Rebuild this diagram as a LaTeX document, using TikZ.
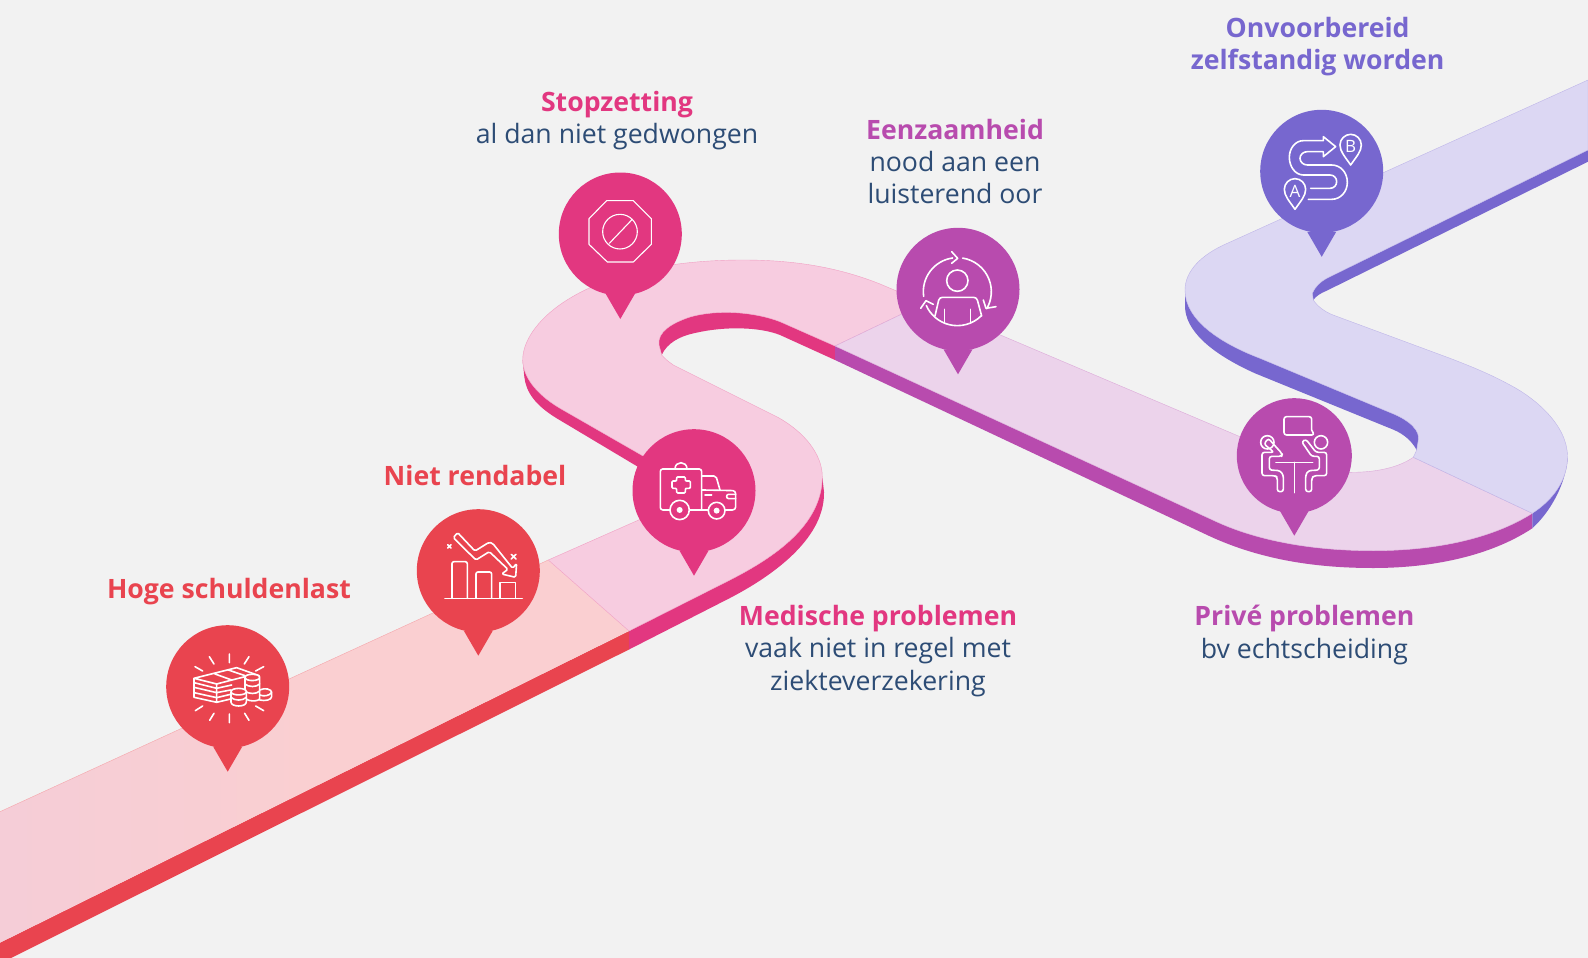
\documentclass[tikz,border=0pt]{standalone}
\usepackage{fontspec}
\setmainfont{Open Sans}
\definecolor{bgc}{HTML}{F2F2F2}
\definecolor{cred}{HTML}{E9444F}
\definecolor{cpink}{HTML}{E23780}
\definecolor{cpurp}{HTML}{B84BAE}
\definecolor{clav}{HTML}{7767CF}
\definecolor{tred}{HTML}{FACFD1}
\definecolor{tredb}{HTML}{F5CDD7}
\definecolor{tpink}{HTML}{F7CCE0}
\definecolor{tpurp}{HTML}{ECD3EB}
\definecolor{tlav}{HTML}{DCD7F3}
\definecolor{ink}{HTML}{2D4C75}
\tikzset{
  iconline/.style={draw=white,line width=1.6pt,line cap=round,line join=round},
  thinicon/.style={draw=white,line width=1.1pt,line cap=round,line join=round},
  titletext/.style={font=\fontsize{26.65}{32.4}\selectfont,align=center,inner sep=0pt},
  lettertext/.style={text=white,inner sep=0pt,font=\fontsize{17}{17}\selectfont},
}
\newcommand{\roadpin}[5]{%
  \fill[#3] (#1,#2) circle[radius=#4];
  \fill[#3] ({#1-14.5},{#2+#5-25}) -- (#1,{#2+#5}) -- ({#1+14.5},{#2+#5-25}) -- cycle;
}
\newcommand{\bt}[2]{\textcolor{#1}{\textbf{#2}}}
\newcommand{\lt}[1]{\textcolor{ink}{#1}}
\begin{document}
\begin{tikzpicture}[x=1pt,y=-1pt]
\useasboundingbox[fill=bgc] (0,0) rectangle (1588,958);
% ---- side faces
\fill[cred] (0,942.7) -- (629,631) -- (629,649.5) -- (0,963.5) -- cycle;
\fill[cpink] (629,631) -- (730,580) .. controls (775,557) and (822,525) .. (822.3,476.7)
   -- (824,492) .. controls (825,535) and (780,572) .. (730,598) -- (629,649.5) -- cycle;
\fill[cpink] (522.7,360) .. controls (523,376) and (535,393.5) .. (560,408.3) -- (650,460) -- (650,474)
   -- (556.7,418.3) .. controls (535,405) and (526,392) .. (524.3,376.7) -- cycle;
\fill[cpink] (835,346) -- (780,321.7) .. controls (755,312) and (718,309) .. (690,317)
   .. controls (672,323) and (657,332) .. (659,345) -- (661.7,355)
   .. controls (667,343) and (680,336) .. (695,333) .. controls (725,326) and (760,327) .. (780,335)
   -- (835,360) -- cycle;
\fill[cpurp] (835,346) -- (1214,520.6) .. controls (1255,540) and (1310,550.7) .. (1373,550.7)
   .. controls (1440,550.7) and (1495,537) .. (1532.3,513.3) -- (1532.3,528.3)
   .. controls (1495,553) and (1440,568) .. (1373,568) .. controls (1310,568) and (1255,558) .. (1205,534)
   -- (835,360) -- cycle;
\fill[clav] (1532.3,513.3) .. controls (1553,500) and (1567.5,480) .. (1567.5,456.7)
   -- (1565,473.3) .. controls (1561,490) and (1550,512) .. (1532.3,528.3) -- cycle;
\fill[clav] (1185,290) .. controls (1185,320) and (1220,343) .. (1260,358.3) -- (1390,412.5)
   .. controls (1412,421) and (1420,432) .. (1418.3,440) -- (1416.7,450)
   .. controls (1410,438) and (1400,432) .. (1390,428.3) -- (1255,373.3)
   .. controls (1210,353) and (1185,330) .. (1185,306) -- cycle;
\fill[clav] (1588,150) -- (1326.7,278.3) .. controls (1320,282) and (1315,287) .. (1312.3,293.3)
   -- (1313.3,300) .. controls (1316,296) and (1321,293) .. (1326.7,290.7) -- (1588,161.7) -- cycle;
% ---- top faces
\shade[left color=tredb,right color=tred,middle color=tred] (0,811.7) -- (548.3,560) -- (629,631) -- (0,942.7) -- cycle;
\draw[cred!30!tred,line width=0.4pt] (0,811.7) -- (548.3,560);
\fill[tpink,draw=cpink!30!tpink,line width=0.4pt] (548.3,560) -- (650,515) .. controls (690,497) and (690,485) .. (660,467)
   -- (650,460) -- (560,408.3) .. controls (535,393.5) and (523,376) .. (522.7,360)
   .. controls (522.7,320) and (590,260) .. (743,260) .. controls (790,260) and (835,266) .. (880,284)
   -- (925,303) -- (835,346) -- (780,321.7) .. controls (755,312) and (718,309) .. (690,317)
   .. controls (672,323) and (657,332) .. (659,345) -- (661.7,355) .. controls (665,359) and (669,362) .. (673.3,365)
   -- (776.7,416.7) .. controls (805,432) and (822.3,455) .. (822.3,476.7)
   .. controls (822,525) and (775,557) .. (730,580) -- (629,631) -- cycle;
\fill[tpurp,draw=cpurp!30!tpurp,line width=0.4pt] (835,346) -- (925,303) -- (1240,436.7) -- (1310,466)
   .. controls (1325,472) and (1340,473) .. (1351.7,472.3) .. controls (1375,472.3) and (1398,468) .. (1413.3,457.3)
   -- (1532.3,513.3) .. controls (1495,537) and (1440,550.7) .. (1373,550.7)
   .. controls (1310,550.7) and (1255,540) .. (1214,520.6) -- cycle;
\fill[tlav,draw=clav!30!tlav,line width=0.4pt] (1413.3,457.3) -- (1532.3,513.3) .. controls (1553,500) and (1567.5,480) .. (1567.5,456.7)
   .. controls (1567.5,425) and (1535,398) .. (1510,385) .. controls (1490,374) and (1470,366) .. (1450,358.3)
   -- (1333,315) .. controls (1325,312) and (1317,306) .. (1313.3,300) -- (1312.3,293.3)
   .. controls (1315,287) and (1320,282) .. (1326.7,278.3) -- (1588,150) -- (1588,80) -- (1228,243)
   .. controls (1200,255) and (1185,272) .. (1185,290) .. controls (1185,320) and (1220,343) .. (1260,358.3)
   -- (1390,412.5) .. controls (1412,421) and (1420,432) .. (1418.3,440) -- (1416.7,450) -- cycle;
% ---- pins
\roadpin{227.7}{686.7}{cred}{61.5}{85}
\roadpin{478.3}{570.7}{cred}{61.5}{85}
\roadpin{620.3}{234}{cpink}{61.5}{85}
\roadpin{694}{490.7}{cpink}{61.5}{85}
\roadpin{958}{289.3}{cpurp}{61.5}{85}
\roadpin{1321.7}{171.3}{clav}{61.5}{85.5}
\roadpin{1294.3}{455.7}{cpurp}{57.5}{80}
% ---- icon 1: money
\begin{scope}[shift={(140,500)},x=0.3333pt,y=-0.3333pt]
\draw[iconline] (268,462)--(268,488) (208,470)--(222,492) (327,470)--(313,492) (165,500)--(188,513) (371,500)--(347,513)
  (166,632)--(188,618) (371,632)--(347,618) (209,661)--(222,640) (327,661)--(314,640) (268,668)--(268,642);
\draw[iconline] (162,535)--(290,503)--(357,527) (162,535)--(230,552)--(315,530) (162,535)--(162,592)--(230,607)--(272,597)
  (230,552)--(230,607) (162,548)--(230,565)--(275,555) (162,562)--(230,578)--(272,570) (162,578)--(230,593)--(272,583)
  (225,522)--(275,540) (265,510)--(315,527);
\draw[iconline,fill=cred] (359,570) .. controls (375,562) and (395,568) .. (395,577) -- (395,590) .. controls (395,600) and (375,604) .. (359,600);
\draw[iconline,fill=cred] (315,532) -- (315,590) .. controls (315,606) and (359,606) .. (359,595) -- (359,532)
   .. controls (359,520) and (315,520) .. (315,532) .. controls (315,545) and (359,545) .. (359,532);
\draw[iconline] (315,552) .. controls (325,562) and (350,562) .. (359,552) (315,573) .. controls (325,583) and (350,583) .. (359,573);
\draw[iconline] (359,585) .. controls (372,590) and (388,588) .. (395,577);
\draw[iconline,fill=cred] (273,575) -- (273,606) .. controls (273,622) and (319,622) .. (319,606) -- (319,575)
  .. controls (319,562) and (273,562) .. (273,575) .. controls (273,588) and (319,588) .. (319,575);
\draw[iconline] (273,592) .. controls (283,603) and (309,603) .. (319,592);
% ---- icon 2: chart
\draw[iconline] (915,295)--(1147,295);
\draw[iconline,rounded corners=2pt] (936,295)--(936,185)--(982,185)--(982,295);
\draw[iconline,rounded corners=2pt] (1008,295)--(1008,216)--(1055,216)--(1055,295);
\draw[iconline] (1080,295)--(1080,248)--(1127,248)--(1127,295);
\draw[iconline,rounded corners=1.5pt] (940,113)--(953,98)--(1005,153)--(1047,127)--(1058,130)--(1118,205)--(1130,190)--(1127,232)--(1085,222)--(1104,208)--(1048,155)--(1008,180)--cycle;
\draw[iconline] (923,134)--(933,144) (933,134)--(923,144) (1114,163)--(1128,177) (1128,163)--(1114,177);
\end{scope}
% ---- icon 3: stop ; icon 4: ambulance
\begin{scope}[shift={(510,160)},x=0.3333pt,y=-0.3333pt]
\draw[thinicon] (290,122)--(370,122)--(424,176)--(424,253)--(370,306)--(292,306)--(237,253)--(237,176)--cycle;
\draw[thinicon] (330,215) circle[radius=52] (298,250)--(365,180);
\draw[iconline,rounded corners=2.5pt] (480,1050)--(451,1050)--(451,927)--(575,927)--(575,1050);
\draw[iconline] (495,927) .. controls (495,902) and (531,902) .. (531,927);
\draw[iconline,rounded corners=1pt] (500,951)--(526,951)--(526,963)--(541,963)--(541,985)--(526,985)--(526,999)--(500,999)--(500,985)--(486,985)--(486,963)--(500,963)--cycle;
\draw[iconline] (509,1050) circle[radius=29] (620,1052) circle[radius=25];
\fill[white] (509,1050) circle[radius=9] (620,1052) circle[radius=9];
\draw[iconline] (539,1050)--(595,1050);
\draw[iconline,rounded corners=2pt] (575,948)--(618,948)--(630,990);
\draw[iconline,rounded corners=3pt] (575,990)--(677,992)--(677,1050)--(645,1050);
\draw[iconline] (585,1005)--(605,1005);
\draw[iconline,rounded corners=2pt] (677,1003)--(650,1003)--(650,1016)--(677,1016);
\end{scope}
% ---- icon 5: person
\begin{scope}[shift={(880,210)},x=0.3333pt,y=-0.3333pt]
\draw[iconline] (232,212) circle[radius=32];
\draw[iconline,rounded corners=3pt] (165,318)--(178,262)--(290,262)--(305,318);
\draw[iconline] (193,298)--(193,340) (272,298)--(272,338);
\draw[iconline] (232,245)+(172:102) arc[start angle=172,end angle=262,radius=102];
\draw[iconline] (232,245)+(-81:102) arc[start angle=-81,end angle=30,radius=102];
\draw[iconline] (232,245)+(45:102) arc[start angle=45,end angle=156,radius=102];
\draw[iconline] (215,125)--(233,145)--(215,160) (348,290)--(318,295)--(310,270) (122,295)--(138,272)--(160,283);
\end{scope}
% ---- icon 6: route
\begin{scope}[shift={(1220,100)},x=0.3333pt,y=-0.3333pt]
\draw[iconline] (265,298)--(335,298) .. controls (362,298) and (382,275) .. (382,247) .. controls (382,218) and (362,195) .. (335,195)
  --(262,195) .. controls (250,195) and (240,186) .. (240,175) .. controls (240,164) and (250,155) .. (262,155)
  --(310,155)--(310,170)--(347,140)--(310,110)--(310,122)--(250,122) .. controls (226,122) and (208,145) .. (208,172)
  .. controls (208,200) and (226,225) .. (250,225)--(330,225) .. controls (342,225) and (350,234) .. (350,245)
  .. controls (350,256) and (342,265) .. (330,265)--(272,265);
\draw[iconline] (225,328) .. controls (208,303) and (193,288) .. (193,268) .. controls (193,250) and (208,236) .. (225,236)
  .. controls (242,236) and (257,250) .. (257,268) .. controls (257,288) and (242,303) .. (225,328) -- cycle;
\draw[iconline,shift={(167,-133)}] (225,328) .. controls (208,303) and (193,288) .. (193,268) .. controls (193,250) and (208,236) .. (225,236)
  .. controls (242,236) and (257,250) .. (257,268) .. controls (257,288) and (242,303) .. (225,328) -- cycle;
\node[lettertext] (letterA) at (225,273) {A};
\node[lettertext] (letterB) at (392,139) {B};
\end{scope}
% ---- icon 7: meeting
\begin{scope}[shift={(1200,380)},x=0.3333pt,y=-0.3333pt]
\draw[iconline,rounded corners=2.5pt] (335,150)--(335,110)--(252,110)--(252,165)--(343,165)--(335,150);
\draw[iconline] (228,247)--(338,247) (283,247)--(283,338);
\draw[iconline] (202,187) circle[radius=20] (363,187) circle[radius=20];
\draw[iconline,rounded corners=2.5pt] (205,175)--(247,222)--(245,229)--(208,229)--(208,270)--(240,272)--(250,285)--(250,335)--(232,335)--(232,292)--(225,287)--(186,287)--(186,217)--(222,217)--(192,192)--cycle;
\draw[iconline,rounded corners=2.5pt] (318,178)--(348,217)--(380,217)--(380,287)--(342,287)--(335,295)--(335,335)--(317,335)--(317,285)--(325,272)--(358,270)--(358,229)--(335,229)--(305,185)--cycle;
\end{scope}
% ---- texts
\node[titletext] (t1) at (229,592) {\bt{cred}{Hoge schuldenlast}};
\node[titletext] (t2) at (475,476) {\bt{cred}{Niet rendabel}};
\node[titletext] (t3) at (617,120.5) {\bt{cpink}{Stopzetting}\\\lt{al dan niet gedwongen}};
\node[titletext] (t4) at (878,651) {\bt{cpink}{Medische problemen}\\\lt{vaak niet in regel met}\\\lt{ziekteverzekering}};
\node[titletext] (t5) at (955,161.5) {\bt{cpurp}{Eenzaamheid}\\\lt{nood aan een}\\\lt{luisterend oor}};
\node[titletext] (t6) at (1304.4,635) {\bt{cpurp}{Privé problemen}\\\lt{bv echtscheiding}};
\node[titletext] (t7) at (1317.6,46.5) {\bt{clav}{Onvoorbereid}\\\bt{clav}{zelfstandig worden}};
\end{tikzpicture}
\end{document}
